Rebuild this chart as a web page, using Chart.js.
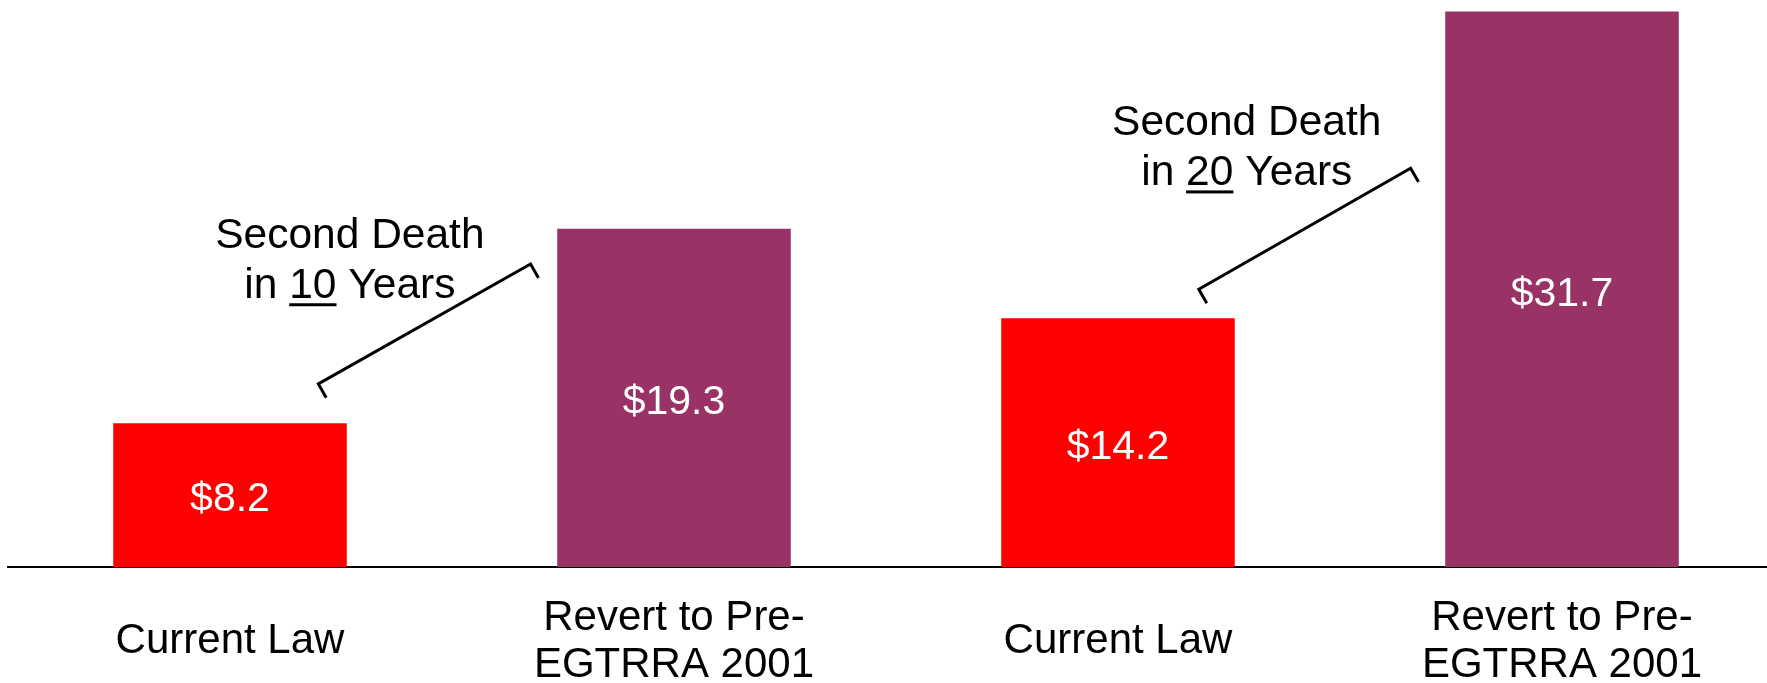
<!DOCTYPE html>
<html>
<head>
<meta charset="utf-8">
<script src="https://cdn.jsdelivr.net/npm/chart.js@4"></script>
<style>
    html, body { margin: 0; padding: 0; background: #fff; overflow: hidden; }
    #wrap { width: 1767px; height: 683px; overflow: hidden; }
</style>
</head>
<body>
<div id="wrap"><canvas id="chart" width="1784" height="683"></canvas></div>
<script>
// chart data
const categories = ['Current Law', ['Revert to Pre-', 'EGTRRA 2001'], 'Current Law', ['Revert to Pre-', 'EGTRRA 2001']];
const values = [8.2, 19.3, 14.2, 31.7];
const valueLabels = ['$8.2', '$19.3', '$14.2', '$31.7'];
const barColors = ['#ff0000', '#993366', '#ff0000', '#993366'];
const noteYears = ['10', '20'];

const FONT = '"Liberation Sans", Arial, sans-serif';

// bracket + caption placement, in axis units (category index / value)
const notes = [
    { textX: 0.27, textY: 18.22, from: [0.199, 10.45], to: [0.677, 17.29] },
    { textX: 2.29, textY: 24.66, from: [2.182, 15.85], to: [2.659, 22.76] }
];

const barValuePlugin = {
    id: 'barValues',
    afterDatasetsDraw(chart) {
        const ctx = chart.ctx;
        const meta = chart.getDatasetMeta(0);
        ctx.save();
        ctx.fillStyle = '#fff';
        ctx.font = '41px ' + FONT;
        ctx.textAlign = 'center';
        ctx.textBaseline = 'middle';
        meta.data.forEach((bar, i) => {
            ctx.fillText(valueLabels[i], bar.x, (bar.y + bar.base) / 2 + 5);
        });
        ctx.restore();
    }
};

const notePlugin = {
    id: 'notes',
    afterDraw(chart) {
        const ctx = chart.ctx;
        const xs = chart.scales.x, ys = chart.scales.y;
        ctx.save();
        notes.forEach((n, i) => {
            // bracket
            const x1 = xs.getPixelForValue(n.from[0]), y1 = ys.getPixelForValue(n.from[1]);
            const x2 = xs.getPixelForValue(n.to[0]), y2 = ys.getPixelForValue(n.to[1]);
            const len = Math.hypot(x2 - x1, y2 - y1);
            const px = -(y2 - y1) / len * 16, py = (x2 - x1) / len * 16;
            ctx.strokeStyle = '#000';
            ctx.lineWidth = 3;
            ctx.lineJoin = 'miter';
            ctx.beginPath();
            ctx.moveTo(x1 + px, y1 + py);
            ctx.lineTo(x1, y1);
            ctx.lineTo(x2, y2);
            ctx.lineTo(x2 + px, y2 + py);
            ctx.stroke();

            // caption
            const cx = xs.getPixelForValue(n.textX);
            const by = ys.getPixelForValue(n.textY);
            ctx.fillStyle = '#000';
            ctx.font = '42.5px ' + FONT;
            ctx.textBaseline = 'alphabetic';
            ctx.textAlign = 'center';
            ctx.fillText('Second Death', cx, by);

            const a = 'in ', b = noteYears[i], c = ' Years';
            const wa = ctx.measureText(a).width, wb = ctx.measureText(b).width, wc = ctx.measureText(c).width;
            let lx = cx - (wa + wb + wc) / 2;
            const by2 = by + 50.5;
            ctx.textAlign = 'left';
            ctx.fillText(a, lx, by2);
            ctx.fillText(b, lx + wa, by2);
            ctx.fillText(c, lx + wa + wb, by2);
            ctx.fillRect(lx + wa, by2 + 5, wb, 3);
        });
        ctx.restore();
    }
};

new Chart(document.getElementById('chart'), {
    type: 'bar',
    data: {
        labels: categories,
        datasets: [{
            data: values,
            backgroundColor: barColors,
            borderWidth: 0,
            categoryPercentage: 1,
            barPercentage: 0.526
        }]
    },
    options: {
        responsive: false,
        animation: false,
        layout: { padding: { left: 8, right: 0, top: 0, bottom: 0 } },
        plugins: {
            legend: { display: false },
            tooltip: { enabled: false }
        },
        scales: {
            x: {
                grid: { display: false },
                border: { display: true, color: '#000', width: 2 },
                ticks: {
                    color: '#000',
                    font: { family: FONT, size: 42, lineHeight: 1.12 },
                    crossAlign: 'center',
                    padding: 43,
                    maxRotation: 0,
                    autoSkip: false
                },
                afterFit(scale) { scale.height = 116; }
            },
            y: {
                display: false,
                min: 0,
                max: 32.36
            }
        }
    },
    plugins: [barValuePlugin, notePlugin]
});
</script>
</body>
</html>
